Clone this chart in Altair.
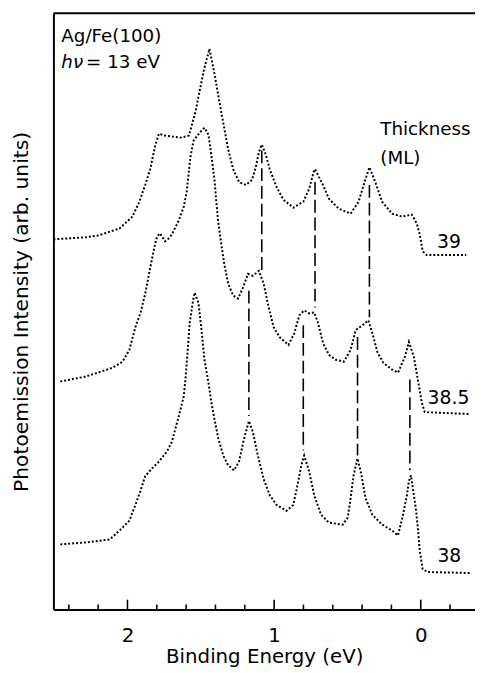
import altair as alt
import pandas as pd

# ---- spectra (binding energy in eV, intensity in arb. units incl. vertical offset) ----
E39 = [2.505, 2.283, 2.195, 2.054, 1.966, 1.919, 1.879, 1.845, 1.811, 1.785, 1.744, 1.690,
       1.636, 1.582, 1.562, 1.535, 1.515, 1.481, 1.441, 1.407, 1.380, 1.347, 1.313, 1.279,
       1.239, 1.192, 1.151, 1.125, 1.104, 1.084, 1.057, 1.030, 0.983, 0.936, 0.869, 0.801,
       0.761, 0.727, 0.721, 0.694, 0.667, 0.626, 0.559, 0.478, 0.424, 0.377, 0.350, 0.310,
       0.263, 0.195, 0.128, 0.061, 0.027, 0.007, -0.013, -0.040, -0.310]
I39 = [37.5, 37.7, 37.9, 38.6, 39.8, 41.3, 43.0, 44.6, 47.0, 48.2, 48.0, 47.9,
       47.8, 48.0, 49.0, 50.5, 52.0, 54.5, 56.8, 54.3, 52.0, 49.3, 46.6, 44.6,
       43.3, 43.0, 43.5, 44.8, 46.3, 47.1, 46.1, 44.6, 42.8, 41.5, 40.7, 41.3,
       42.6, 44.5, 44.6, 43.8, 43.0, 41.6, 40.6, 40.1, 41.3, 43.6, 44.8, 43.3,
       41.3, 40.1, 39.8, 40.0, 39.1, 38.0, 36.3, 35.9, 35.9]

E385 = [2.458, 2.283, 2.101, 2.034, 1.987, 1.946, 1.912, 1.879, 1.845, 1.818, 1.798, 1.778,
        1.744, 1.717, 1.697, 1.650, 1.616, 1.596, 1.582, 1.569, 1.549, 1.508, 1.475, 1.448,
        1.428, 1.407, 1.394, 1.380, 1.360, 1.340, 1.313, 1.279, 1.246, 1.212, 1.178, 1.145,
        1.104, 1.071, 1.037, 1.003, 0.963, 0.902, 0.862, 0.828, 0.795, 0.761, 0.727, 0.700,
        0.667, 0.626, 0.579, 0.525, 0.478, 0.444, 0.397, 0.357, 0.330, 0.296, 0.256, 0.195,
        0.155, 0.108, 0.081, 0.047, 0.020, -0.007, -0.027, -0.330]
I385 = [23.1, 23.6, 24.5, 25.1, 26.3, 28.6, 30.0, 32.0, 34.6, 36.6, 37.8, 38.1,
        37.3, 37.6, 38.0, 39.4, 40.8, 42.3, 44.3, 46.0, 47.5, 48.3, 48.8, 48.1,
        46.0, 43.6, 41.3, 39.1, 37.0, 35.0, 33.0, 31.8, 31.5, 32.6, 34.0, 33.8,
        34.3, 33.0, 30.6, 28.6, 27.6, 26.8, 28.0, 29.8, 30.3, 30.0, 30.1, 29.0,
        27.0, 25.8, 25.3, 25.1, 26.3, 28.3, 28.8, 29.3, 28.0, 26.1, 25.0, 24.3,
        24.0, 25.6, 27.1, 25.6, 23.3, 21.0, 20.0, 19.8]

E38 = [2.458, 2.283, 2.121, 2.054, 1.987, 1.946, 1.912, 1.879, 1.832, 1.785, 1.731, 1.697,
       1.650, 1.616, 1.603, 1.589, 1.576, 1.556, 1.542, 1.515, 1.495, 1.475, 1.448, 1.428,
       1.407, 1.380, 1.347, 1.313, 1.273, 1.239, 1.205, 1.172, 1.145, 1.111, 1.071, 1.030,
       0.983, 0.916, 0.869, 0.835, 0.815, 0.795, 0.761, 0.727, 0.680, 0.626, 0.532, 0.498,
       0.478, 0.458, 0.431, 0.404, 0.377, 0.330, 0.263, 0.195, 0.155, 0.121, 0.094, 0.081,
       0.067, 0.054, 0.034, 0.020, 0.007, -0.013, -0.047, -0.343]
I38 = [6.6, 6.8, 7.1, 8.0, 9.0, 10.6, 12.0, 13.5, 14.3, 15.0, 16.0, 17.0,
       19.6, 21.6, 23.6, 26.3, 29.0, 31.0, 32.1, 31.0, 28.3, 25.3, 23.0, 21.0,
       19.3, 17.3, 15.6, 14.6, 14.1, 15.0, 17.3, 19.1, 18.0, 15.6, 13.2, 11.6,
       10.6, 10.0, 10.6, 13.0, 14.6, 15.6, 14.0, 11.6, 9.6, 8.8, 8.6, 9.3,
       11.3, 13.6, 15.3, 13.6, 11.3, 9.6, 8.6, 8.0, 7.5, 9.6, 11.6, 13.0,
       13.6, 12.3, 10.3, 8.3, 6.0, 4.1, 3.8, 3.7]

# ---- dashed guide lines connecting quantum-well peaks ----
dash_E = [1.084, 0.721, 0.350, 1.172, 0.801, 0.431, 0.074]
dash_top = [46.5, 43.3, 43.0, 32.3, 28.8, 27.6, 23.3]
dash_bot = [34.3, 30.6, 29.6, 19.6, 16.1, 15.6, 14.1]

# ---- axis ticks ----
major_ticks = [2, 1, 0]
minor_ticks = [2.4, 2.2, 1.8, 1.6, 1.4, 1.2, 0.8, 0.6, 0.4, 0.2, -0.2]

# ---- annotations ----
left_text = ["Ag/Fe(100)", "= 13 eV", "Thickness", "(ML)"]
left_E = [2.451, 2.282, 0.276, 0.276]
left_I = [57.5, 54.8, 48.1, 45.1]
ital_text = ["h\u03bd"]
ital_E = [2.451]
ital_I = [54.8]
thick_text = ["39", "38.5", "38"]
thick_E = [-0.192, -0.189, -0.195]
thick_I = [36.6, 20.8, 4.8]

FONT = "DejaVu Sans"
W, H = 427, 604
XTITLE = "Binding Energy (eV)"
YTITLE = "Photoemission Intensity (arb. units)"

frames = []
for name, E, I in [("39", E39, I39), ("38.5", E385, I385), ("38", E38, I38)]:
    frames.append(pd.DataFrame({"E": E, "I": I, "i": range(len(E)), "s": name}))
spectra = pd.concat(frames, ignore_index=True)

xscale = alt.Scale(domain=[-0.370, 2.505], reverse=True, nice=False, zero=False)
yscale = alt.Scale(domain=[0, 60.4], nice=False, zero=False)

xaxis = alt.Axis(values=major_ticks, format="d", ticks=False, tickSize=0, grid=False,
                 domainColor="black", domainWidth=2, labelFont=FONT, labelFontSize=20,
                 labelColor="black", labelPadding=16, labelFlush=False,
                 titleFont=FONT, titleFontSize=20, titleFontWeight="normal",
                 titleColor="black", titlePadding=2)
yaxis = alt.Axis(labels=False, ticks=False, grid=False, domainColor="black", domainWidth=2,
                 titleFont=FONT, titleFontSize=20.5, titleFontWeight="normal",
                 titleColor="black", titlePadding=22)


def X(field):
    return alt.X(field, scale=xscale, axis=xaxis, title=XTITLE)


def Y(field):
    return alt.Y(field, scale=yscale, axis=yaxis, title=YTITLE)


lines = alt.Chart(spectra).mark_line(
    color="black", strokeWidth=2, strokeDash=[2, 2]
).encode(x=X("E:Q"), y=Y("I:Q"), detail="s:N", order="i:Q")

dash_df = pd.DataFrame({"E": dash_E, "top": dash_top, "bot": dash_bot})
dashes = alt.Chart(dash_df).mark_rule(
    color="black", strokeWidth=1.6, strokeDash=[13, 5]
).encode(x=X("E:Q"), y=Y("top:Q"), y2="bot:Q")

major_df = pd.DataFrame({"t": major_ticks})
minor_df = pd.DataFrame({"t": minor_ticks})
major_rules = alt.Chart(major_df).mark_rule(color="black", strokeWidth=1.6).encode(
    x=X("t:Q"), y=alt.value(H), y2=alt.value(H - 10))
minor_rules = alt.Chart(minor_df).mark_rule(color="black", strokeWidth=1.6).encode(
    x=X("t:Q"), y=alt.value(H), y2=alt.value(H - 5))

top_border = alt.Chart(pd.DataFrame({"a": [0]})).mark_rule(
    color="black", strokeWidth=2
).encode(x=alt.value(0), x2=alt.value(W), y=alt.value(0))

left_df = pd.DataFrame({"E": left_E, "I": left_I, "t": left_text})
ital_df = pd.DataFrame({"E": ital_E, "I": ital_I, "t": ital_text})
thick_df = pd.DataFrame({"E": thick_E, "I": thick_I, "t": thick_text})

left_txt = alt.Chart(left_df).mark_text(
    align="left", baseline="alphabetic", font=FONT, fontSize=18.5, color="black"
).encode(x=X("E:Q"), y=Y("I:Q"), text="t:N")
ital_txt = alt.Chart(ital_df).mark_text(
    align="left", baseline="alphabetic", font=FONT, fontSize=18.5, fontStyle="italic",
    color="black"
).encode(x=X("E:Q"), y=Y("I:Q"), text="t:N")
thick_txt = alt.Chart(thick_df).mark_text(
    align="center", baseline="alphabetic", font=FONT, fontSize=19, color="black"
).encode(x=X("E:Q"), y=Y("I:Q"), text="t:N")

chart = alt.layer(
    lines, dashes, major_rules, minor_rules, top_border, left_txt, ital_txt, thick_txt
).properties(
    width=W, height=H,
    padding={"left": 46, "right": 0, "top": 1, "bottom": 60},
    autosize=alt.AutoSizeParams(type="none"),
).configure_view(stroke=None)

chart.save("out.html", embed_options={"renderer": "svg", "actions": False})
